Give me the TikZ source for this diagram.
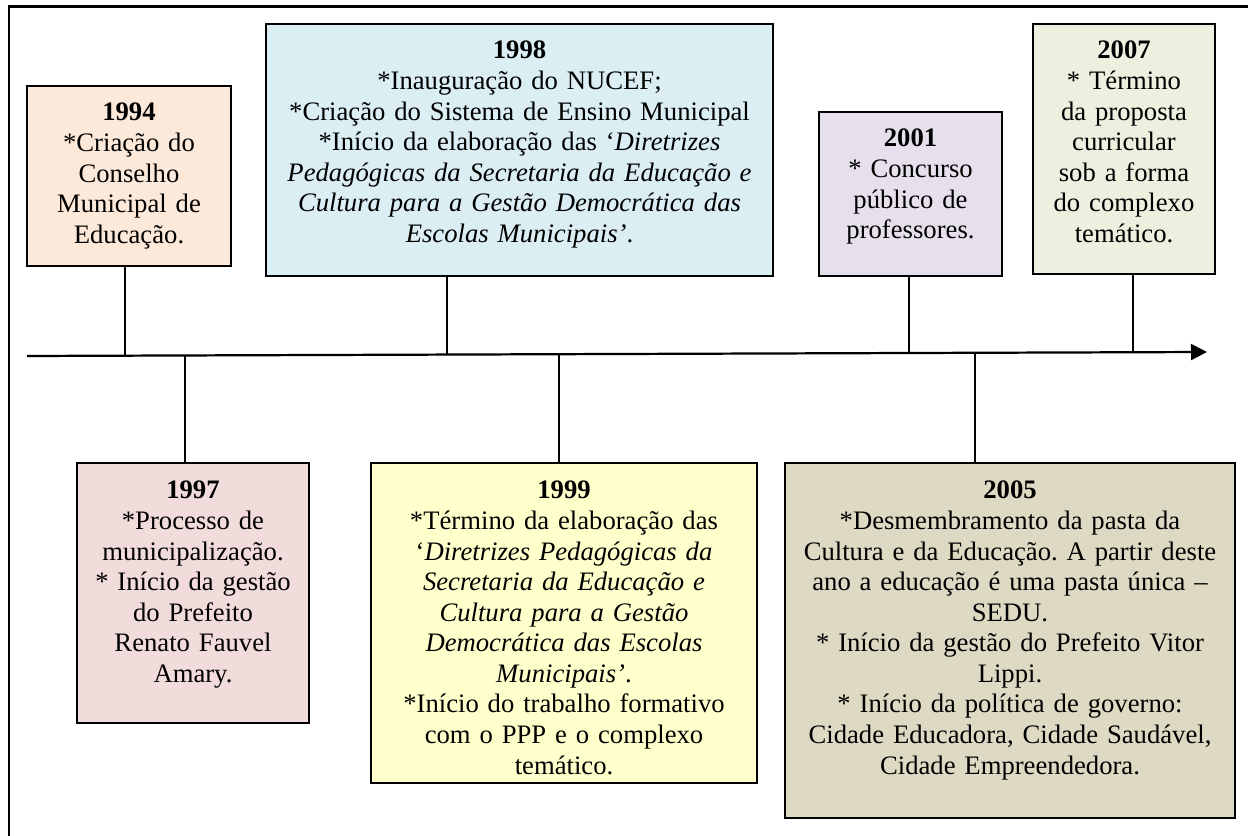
\documentclass[tikz,border=0pt]{standalone}
\usepackage{fontspec}
\setmainfont{Liberation Serif}
\usetikzlibrary{arrows.meta,fit}
\frenchspacing
\definecolor{c94}{HTML}{FDE9D9}
\definecolor{c98}{HTML}{DAEEF3}
\definecolor{c01}{HTML}{E5E0EC}
\definecolor{c07}{HTML}{EBF1DE}
\definecolor{c97}{HTML}{F2DCDB}
\definecolor{c99}{HTML}{FFFFCC}
\definecolor{c05}{HTML}{DDD9C3}
\tikzset{
  evbox/.style={draw=black, line width=0.9pt, inner sep=0pt, rectangle},
  evtxt/.style={text width=240pt, align=center, inner sep=0pt, anchor=base,
    font=\fontsize{12pt}{13.75pt}\selectfont},
  conn/.style={line width=0.9pt},
}
\begin{document}
\begin{tikzpicture}[x=0.45pt,y=-0.45pt]
\useasboundingbox (0,0) rectangle (1248,836);
% outer frame (cropped)
\draw[line width=1.1pt] (8.8,840) -- (8.8,6.7) -- (1252,6.7);
% axis
\coordinate (ax0) at (27,356);
\coordinate (ax1) at (1207,352);
\draw[line width=1pt, -{Triangle[length=7.2pt,width=7.2pt]}] (ax0) -- (ax1);
% boxes
\node[evbox, fill=c94, fit={(27,86) (231,266)}] (b94) {};
\node[evbox, fill=c98, fit={(266,24) (773,276)}] (b98) {};
\node[evbox, fill=c01, fit={(819,112) (1002,276)}] (b01) {};
\node[evbox, fill=c07, fit={(1033,24) (1215,274)}] (b07) {};
\node[evbox, fill=c97, fit={(77,463) (309,723)}] (b97) {};
\node[evbox, fill=c99, fit={(371,463) (757,783)}] (b99) {};
\node[evbox, fill=c05, fit={(785,463) (1235,818)}] (b05) {};
% texts
\node[evtxt] (t94) at (129,121) {\textbf{1994}\\{*}Criação do\\Conselho\\Municipal de\\Educação.};
\node[evtxt] (t98) at (519.5,59) {\textbf{1998}\\{*}Inauguração do NUCEF;\\{*}Criação do Sistema de Ensino Municipal\\{*}Início da elaboração das ‘\textit{Diretrizes}\\\textit{Pedagógicas da Secretaria da Educação e}\\\textit{Cultura para a Gestão Democrática das}\\\textit{Escolas Municipais’}.};
\node[evtxt] (t01) at (910.5,147) {\textbf{2001}\\{*} Concurso\\público de\\professores.};
\node[evtxt] (t07) at (1124,59) {\textbf{2007}\\{*} Término\\da proposta\\curricular\\sob a forma\\do complexo\\temático.};
\node[evtxt] (t97) at (193,499) {\textbf{1997}\\{*}Processo de\\municipalização.\\{*} Início da gestão\\do Prefeito\\Renato Fauvel\\Amary.};
\node[evtxt] (t99) at (564,499) {\textbf{1999}\\{*}Término da elaboração das\\‘\textit{Diretrizes Pedagógicas da}\\\textit{Secretaria da Educação e}\\\textit{Cultura para a Gestão}\\\textit{Democrática das Escolas}\\\textit{Municipais’}.\\{*}Início do trabalho formativo\\com o PPP e o complexo\\temático.};
\node[evtxt] (t05) at (1010,499) {\textbf{2005}\\{*}Desmembramento da pasta da\\Cultura e da Educação. A partir deste\\ano a educação é uma pasta única –\\SEDU.\\{*} Início da gestão do Prefeito Vitor\\Lippi.\\{*} Início da política de governo:\\Cidade Educadora, Cidade Saudável,\\Cidade Empreendedora.};
% connector points on the axis
\coordinate (a94) at (125,355.7);
\coordinate (a98) at (447,354.6);
\coordinate (a01) at (909,353.0);
\coordinate (a07) at (1133,352.3);
\coordinate (a97) at (185,355.5);
\coordinate (a99) at (559,354.2);
\coordinate (a05) at (975,352.8);
% connectors
\draw[conn] (b94.south -| a94) -- (a94);
\draw[conn] (b98.south -| a98) -- (a98);
\draw[conn] (b01.south -| a01) -- (a01);
\draw[conn] (b07.south -| a07) -- (a07);
\draw[conn] (a97) -- (b97.north -| a97);
\draw[conn] (a99) -- (b99.north -| a99);
\draw[conn] (a05) -- (b05.north -| a05);
\end{tikzpicture}
\end{document}
